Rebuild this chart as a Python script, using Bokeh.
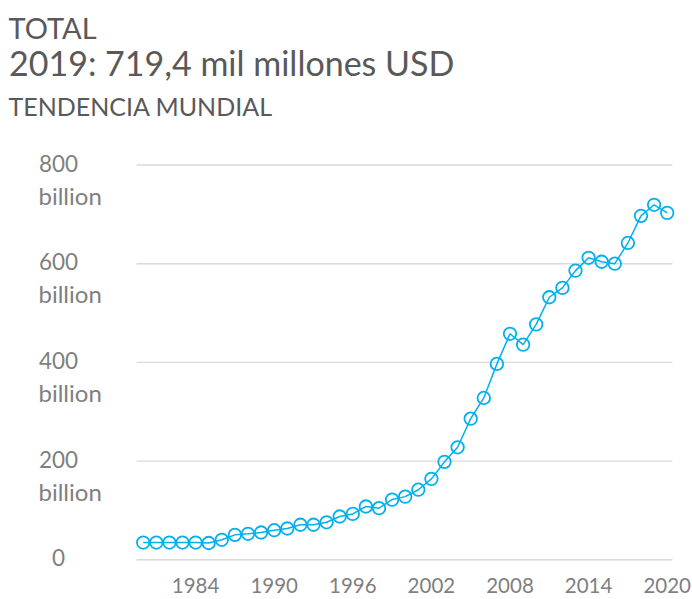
from bokeh.plotting import figure
from bokeh.models import ColumnDataSource, Range1d
from bokeh.core.properties import value
from bokeh.embed import file_html
from bokeh.resources import INLINE

# ---- data ----
years = list(range(1980, 2021))
remittances_bn = [35, 35, 35, 35, 35, 34, 40.5, 50.6, 52.7, 55.3,
                  60, 63.4, 71, 71, 76, 87.7, 93, 108, 104.6, 122,
                  128, 142, 164, 198.5, 228, 286, 328, 397, 458, 436,
                  477, 532, 551, 586, 612, 604, 600, 642, 697, 719.4,
                  703]
y_ticks = [0, 200, 400, 600, 800]
y_tick_labels = ["0", "200", "400", "600", "800"]
y_tick_units = ["", "billion", "billion", "billion", "billion"]
x_ticks = [1984, 1990, 1996, 2002, 2008, 2014, 2020]
x_tick_labels = [str(t) for t in x_ticks]
title_top = "TOTAL"
title_main = "2019: 719,4 mil millones USD"
title_sub = "TENDENCIA MUNDIAL"

# ---- style / layout constants ----
FONT = "Lato"
BLUE = "#00B0F0"
GREY_T = "#595959"
GREY_L = "#7F7F7F"
GRID = "#D9D9D9"

W, H = 692, 599
Y0_PX, YTOP_PX = 559.3, 164.5        # pixel rows of value 0 and of top tick
X_FIRST_PX, X_LAST_PX = 142.7, 666.7  # pixel columns of first / last year

ppu_y = (Y0_PX - YTOP_PX) / y_ticks[-1]
ppu_x = (X_LAST_PX - X_FIRST_PX) / (years[-1] - years[0])
y_start = -(H - Y0_PX) / ppu_y
y_end = y_start + H / ppu_y
x_start = years[0] - X_FIRST_PX / ppu_x
x_end = x_start + W / ppu_x


def px_x(px):
    return x_start + px / ppu_x


def px_y(py):
    return y_start + (H - py) / ppu_y


p = figure(width=W, height=H, output_backend="svg", toolbar_location=None,
           title=None, x_axis_location=None, y_axis_location=None,
           x_range=Range1d(x_start, x_end), y_range=Range1d(y_start, y_end),
           min_border_left=0, min_border_right=0, min_border_top=0,
           min_border_bottom=0)
p.outline_line_color = None
p.background_fill_color = "white"
p.border_fill_color = "white"
p.xgrid.visible = False
p.ygrid.visible = False

# horizontal gridlines at the y ticks, spanning the plot area
grid_src = ColumnDataSource(dict(y=y_ticks,
                                 x0=[years[0] - 0.5] * len(y_ticks),
                                 x1=[years[-1] + 0.4] * len(y_ticks)))
p.segment(x0="x0", x1="x1", y0="y", y1="y", source=grid_src,
          line_color=GRID, line_width=1.4)

# series
src = ColumnDataSource(dict(x=years, y=remittances_bn))
p.line("x", "y", source=src, line_color=BLUE, line_width=1.5)
p.scatter("x", "y", source=src, size=12.5, fill_color=None,
          line_color=BLUE, line_width=1.8)

# y tick labels (number line + unit line)
lab_src = ColumnDataSource(dict(y=y_ticks, num=y_tick_labels, unit=y_tick_units,
                                xn=[px_x(58)] * len(y_ticks),
                                xu=[px_x(38)] * len(y_ticks)))
p.text(x="xn", y="y", text="num", source=lab_src, text_align="center",
       text_baseline="middle", y_offset=-2, text_font=value(FONT),
       text_font_size=value("22.5px"), text_color=GREY_L)
p.text(x="xu", y="y", text="unit", source=lab_src, text_align="left",
       text_baseline="middle", y_offset=30, text_font=value(FONT),
       text_font_size=value("24px"), text_color=GREY_L)

# x tick labels
xl_src = ColumnDataSource(dict(x=x_ticks, t=x_tick_labels,
                               y=[px_y(584.5)] * len(x_ticks)))
p.text(x="x", y="y", text="t", source=xl_src, text_align="center",
       text_baseline="middle", text_font=value(FONT),
       text_font_size=value("20.5px"), text_color=GREY_L)

# header texts
for txt, size, xpx, mid in [(title_top, "29px", 8, 26.7),
                            (title_main, "34px", 8.5, 62.2),
                            (title_sub, "25px", 8, 105.8)]:
    p.text(x=[px_x(xpx)], y=[px_y(mid)], text=[txt], text_align="left",
           text_baseline="middle", text_font=value(FONT),
           text_font_size=value(size), text_color=GREY_T)

open("out.html", "w").write(file_html(p, INLINE))
